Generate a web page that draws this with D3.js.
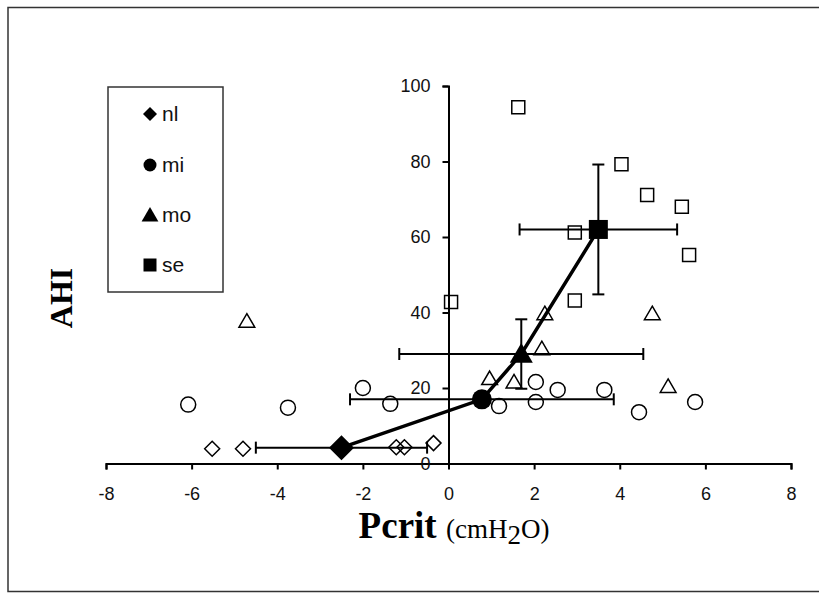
<!DOCTYPE html>
<html><head><meta charset="utf-8">
<script src="https://cdn.jsdelivr.net/npm/d3@7/dist/d3.min.js"></script>
<style>html,body{margin:0;padding:0;background:#fff;}svg{display:block;}</style>
</head><body>
<script>
// ---- data ----
const groups = ["nl", "mi", "mo", "se"];
const meanX = [-2.5, 0.78, 1.7, 3.5];
const meanY = [4.2, 17, 29, 62];
const xErr = [2.0, 3.08, 2.85, 1.84];
const yErr = [0, 0, 9.2, 17.2];

const nlX = [-5.52, -4.8, -1.22, -1.03, -0.35];
const nlY = [3.9, 3.9, 4.3, 4.3, 5.4];
const miX = [-6.08, -3.75, -2.0, -1.36, 1.18, 2.04, 2.04, 2.55, 3.64, 4.45, 5.76];
const miY = [15.6, 14.8, 20, 15.8, 15.2, 21.6, 16.3, 19.5, 19.5, 13.6, 16.3];
const moX = [-4.71, 0.96, 1.53, 2.18, 2.25, 4.76, 5.13];
const moY = [37.7, 22.5, 21.6, 30.4, 39.7, 39.7, 20.4];
const seX = [0.06, 1.63, 2.95, 2.95, 4.04, 4.64, 5.45, 5.62];
const seY = [42.8, 94.4, 61.2, 43.2, 79.3, 71.1, 68, 55.2];

const xTicks = [-8, -6, -4, -2, 0, 2, 4, 6, 8];
const yTicks = [0, 20, 40, 60, 80, 100];

// ---- layout ----
const W = 819, H = 594;
const svg = d3.select("body").append("svg").attr("width", W).attr("height", H);
svg.append("rect").attr("width", W).attr("height", H).attr("fill", "#fff");
svg.append("rect").attr("x", 8).attr("y", 7.5).attr("width", 820).attr("height", 584)
  .attr("fill", "none").attr("stroke", "#333").attr("stroke-width", 1.5);

const x = d3.scaleLinear().domain([-8, 8]).range([106, 791]);
const y = d3.scaleLinear().domain([0, 100]).range([463.5, 86]);

function shapePath(type, s) {
  if (type === "diamond") return `M0,${-s}L${s},0L0,${s}L${-s},0Z`;
  if (type === "square") return `M${-s},${-s}H${s}V${s}H${-s}Z`;
  if (type === "triangle") return `M0,${-s}L${s*1.05},${s*0.8}L${-s*1.05},${s*0.8}Z`;
  if (type === "circle") return d3.arc()({innerRadius:0, outerRadius:s, startAngle:0, endAngle:2*Math.PI});
}
const types = ["diamond", "circle", "triangle", "square"];

// axes
const fmt = d => String(d);
const xAxis = svg.append("g").attr("transform", `translate(0,${y(0)})`)
  .call(d3.axisBottom(x).tickValues(xTicks).tickSize(6).tickPadding(14).tickFormat(fmt));
const yAxis = svg.append("g").attr("transform", `translate(${x(0)},0)`)
  .call(d3.axisLeft(y).tickValues(yTicks).tickSize(6).tickPadding(12).tickFormat(fmt));
[xAxis, yAxis].forEach(g => {
  g.select(".domain").attr("stroke", "#000").attr("stroke-width", 2);
  g.selectAll(".tick line").attr("stroke", "#000").attr("stroke-width", 2);
  g.selectAll(".tick text").attr("fill", "#111").style("font-family", "'Liberation Sans', Arial, sans-serif")
    .style("font-size", "18px");
});
xAxis.selectAll(".tick text").attr("dy", "0.9em");

// error bars
const eb = svg.append("g").attr("stroke", "#000").attr("stroke-width", 2).attr("fill", "none");
const cap = 6;
groups.forEach((g, i) => {
  const cx = x(meanX[i]), cy = y(meanY[i]);
  if (xErr[i] > 0) {
    const x0 = x(meanX[i] - xErr[i]), x1 = x(meanX[i] + xErr[i]);
    eb.append("line").attr("x1", x0).attr("x2", x1).attr("y1", cy).attr("y2", cy);
    eb.append("line").attr("x1", x0).attr("x2", x0).attr("y1", cy - cap).attr("y2", cy + cap);
    eb.append("line").attr("x1", x1).attr("x2", x1).attr("y1", cy - cap).attr("y2", cy + cap);
  }
  if (yErr[i] > 0) {
    const y0 = y(meanY[i] - yErr[i]), y1 = y(meanY[i] + yErr[i]);
    eb.append("line").attr("x1", cx).attr("x2", cx).attr("y1", y0).attr("y2", y1);
    eb.append("line").attr("x1", cx - cap).attr("x2", cx + cap).attr("y1", y0).attr("y2", y0);
    eb.append("line").attr("x1", cx - cap).attr("x2", cx + cap).attr("y1", y1).attr("y2", y1);
  }
});

// individual open markers
const openSets = [[nlX, nlY, "diamond", 7.5], [miX, miY, "circle", 7.5], [moX, moY, "triangle", 7.5], [seX, seY, "square", 6.5]];
openSets.forEach(([xs, ys, t, s]) => {
  svg.append("g").selectAll("path").data(xs.map((v, i) => [v, ys[i]])).join("path")
    .attr("d", shapePath(t, s))
    .attr("transform", d => `translate(${x(d[0])},${y(d[1])})`)
    .attr("fill", "none").attr("stroke", "#000").attr("stroke-width", 1.5);
});

// mean line
const line = d3.line().x((d, i) => x(meanX[i])).y((d, i) => y(meanY[i]));
svg.append("path").datum(groups).attr("d", line)
  .attr("fill", "none").attr("stroke", "#000").attr("stroke-width", 3.5);

// filled mean markers
const meanSizes = [12.5, 10, 11, 9.5];
svg.append("g").selectAll("path").data(groups).join("path")
  .attr("d", (d, i) => shapePath(types[i], meanSizes[i]))
  .attr("transform", (d, i) => `translate(${x(meanX[i])},${y(meanY[i])})`)
  .attr("fill", "#000");

// legend
const lg = svg.append("g");
lg.append("rect").attr("x", 108).attr("y", 87).attr("width", 115).attr("height", 205)
  .attr("fill", "#fff").attr("stroke", "#333").attr("stroke-width", 1.5);
const legY = [114, 165, 215, 265];
const legSizes = [7, 6.5, 8, 6.5];
groups.forEach((g, i) => {
  lg.append("path").attr("d", shapePath(types[i], legSizes[i]))
    .attr("transform", `translate(150,${legY[i]})`).attr("fill", "#000");
  lg.append("text").attr("x", 162).attr("y", legY[i]).attr("dy", "0.35em")
    .style("font-family", "'Liberation Sans', Arial, sans-serif").style("font-size", "21px")
    .attr("fill", "#111").text(g);
});

// axis titles
svg.append("text").attr("transform", "translate(72,298) rotate(-90)")
  .attr("text-anchor", "middle")
  .style("font-family", "'Liberation Serif', 'Times New Roman', serif").style("font-weight", "bold")
  .style("font-size", "32px").attr("fill", "#000").text("AHI");

const xt = svg.append("text").attr("x", 454).attr("y", 538).attr("text-anchor", "middle")
  .style("font-family", "'Liberation Serif', 'Times New Roman', serif").attr("fill", "#000");
xt.append("tspan").style("font-weight", "bold").style("font-size", "37px").text("Pcrit ");
xt.append("tspan").style("font-size", "27px").text("(cmH");
xt.append("tspan").style("font-size", "27px").attr("dy", 6).text("2");
xt.append("tspan").style("font-size", "27px").attr("dy", -6).text("O)");
</script>
</body></html>
